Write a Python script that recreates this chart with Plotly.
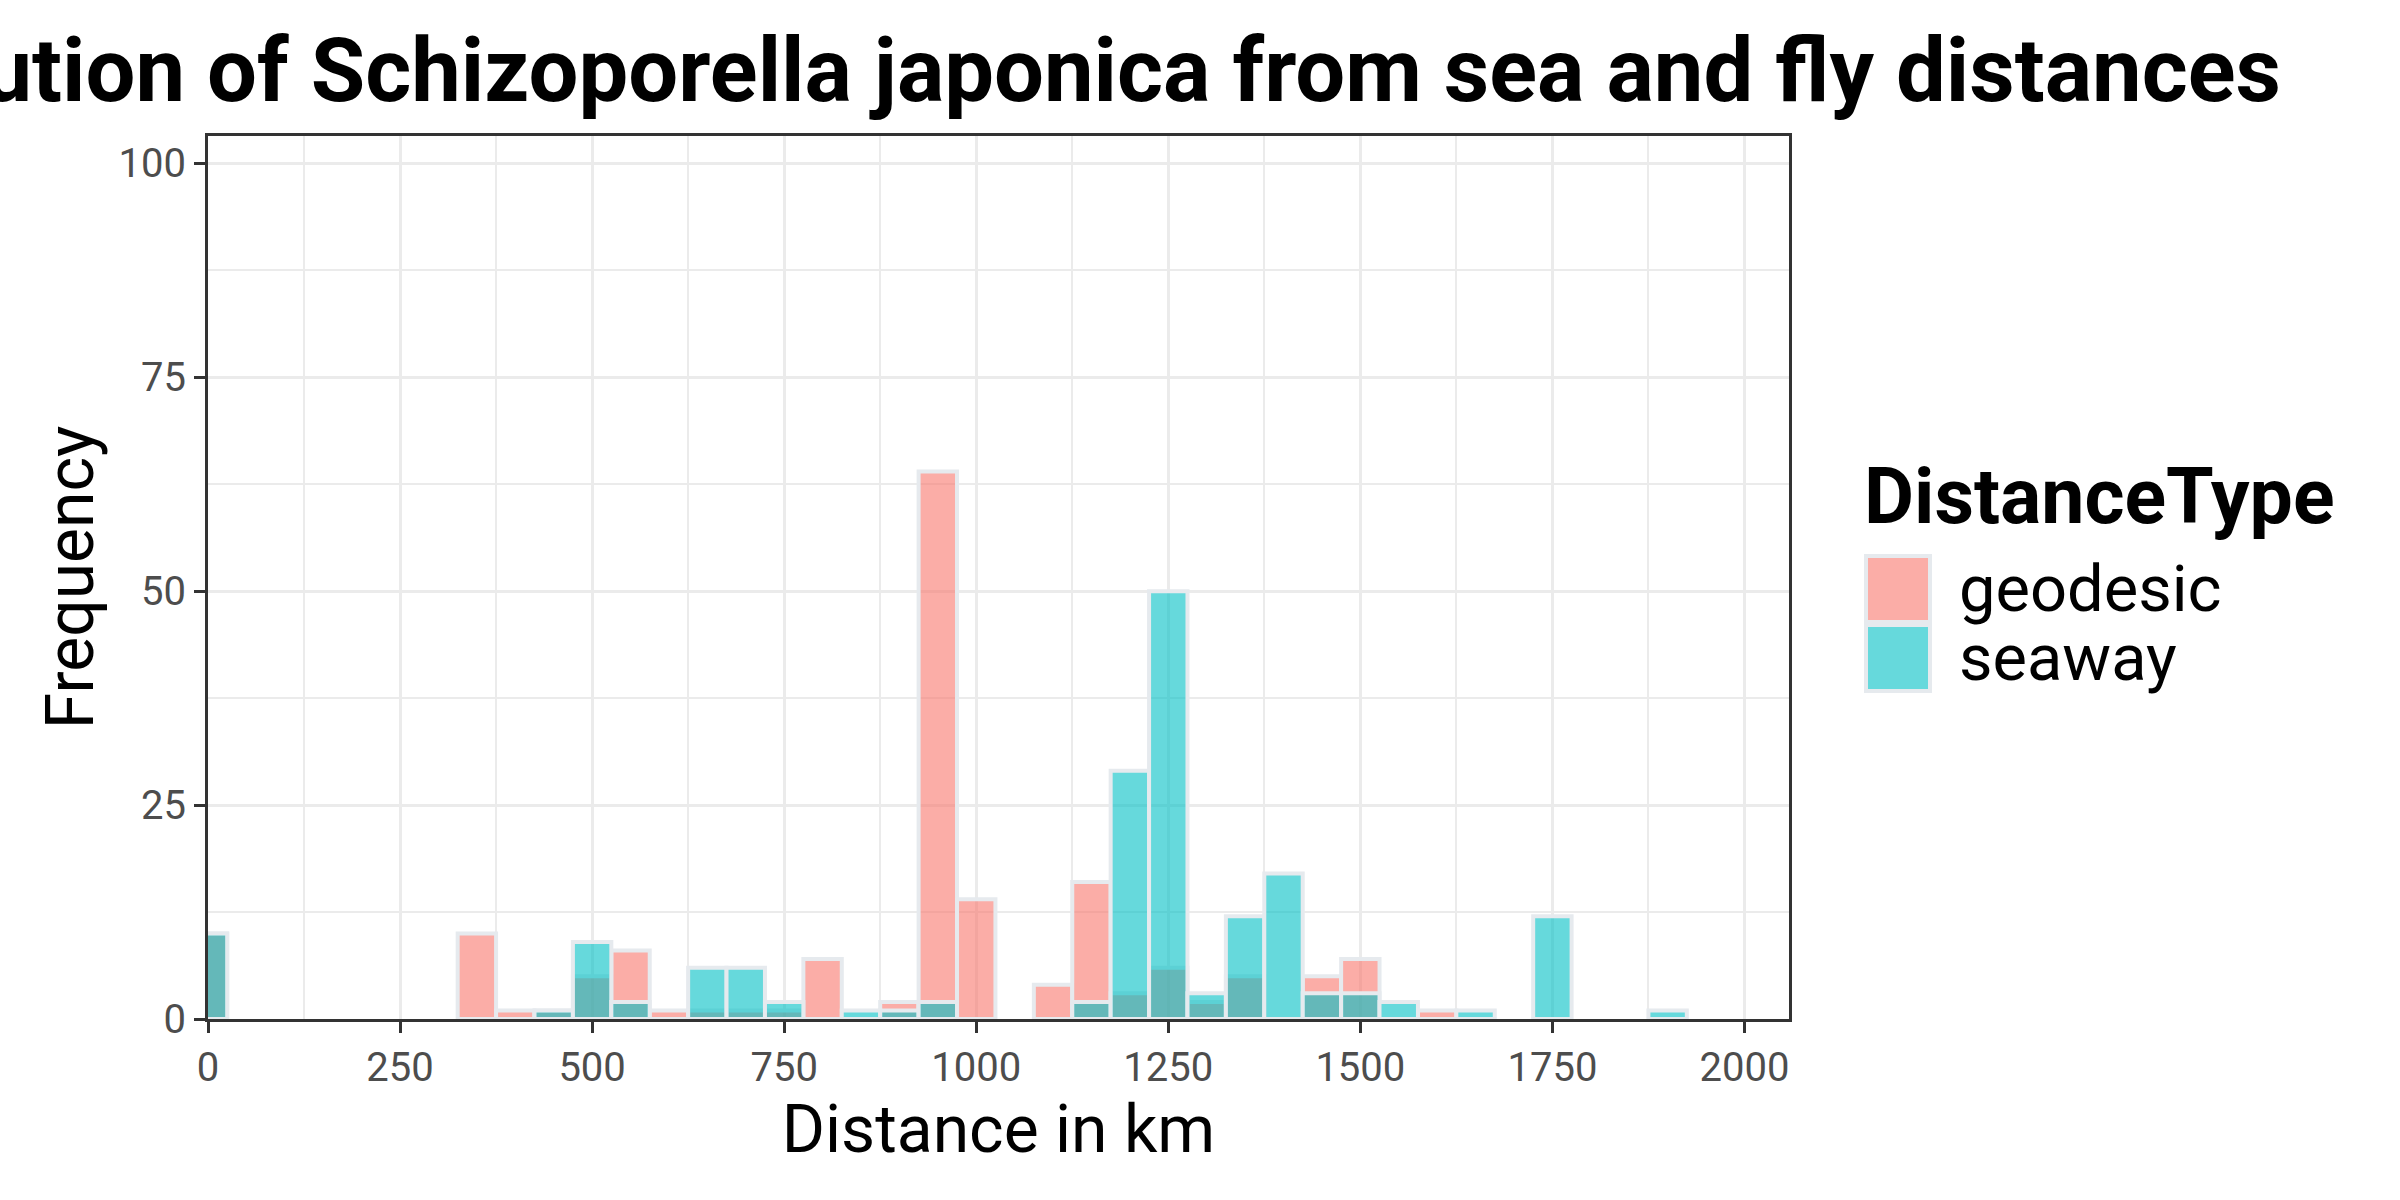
import plotly.graph_objects as go

# ---- data (bin centres in km, counts) ----
bin_centers = [0, 50, 100, 150, 200, 250, 300, 350, 400, 450, 500, 550, 600, 650, 700, 750,
               800, 850, 900, 950, 1000, 1050, 1100, 1150, 1200, 1250, 1300, 1350, 1400,
               1450, 1500, 1550, 1600, 1650, 1700, 1750, 1800, 1850, 1900]
geodesic = [10, 0, 0, 0, 0, 0, 0, 10, 1, 1, 5, 8, 1, 1, 1, 1,
            7, 0, 2, 64, 14, 0, 4, 16, 3, 6, 2, 5, 0,
            5, 7, 0, 1, 0, 0, 0, 0, 0, 0]
seaway = [10, 0, 0, 0, 0, 0, 0, 0, 0, 1, 9, 2, 0, 6, 6, 2,
          0, 1, 1, 2, 0, 0, 0, 2, 29, 50, 3, 12, 17,
          3, 3, 2, 0, 1, 0, 12, 0, 0, 1]
series_names = ["geodesic", "seaway"]
x_ticks = [0, 250, 500, 750, 1000, 1250, 1500, 1750, 2000]
y_ticks = [0, 25, 50, 75, 100]
bin_width = 50

fills = ["rgba(248,118,109,0.6)", "rgba(0,191,196,0.6)"]
outline = "#E6EAEE"
FONT = "Roboto"

# plot area in pixels
W, H = 2400, 1200
L, R, T, B = 208, 1789, 136, 1019


def px(xp):
    return (xp - L) / (R - L)


def py(yp):
    return (B - yp) / (B - T)


fig = go.Figure()
for name, vals, col in zip(series_names, [geodesic, seaway], fills):
    fig.add_trace(go.Bar(
        x=bin_centers,
        y=[v if v > 0 else None for v in vals],
        width=bin_width,
        name=name,
        marker=dict(color=col, line=dict(color=outline, width=4)),
        showlegend=False,
    ))

fig.update_layout(
    width=W, height=H, autosize=False,
    margin=dict(l=L, r=W - R, t=T, b=H - B, pad=0),
    paper_bgcolor="white", plot_bgcolor="white",
    barmode="overlay",
    font=dict(family=FONT, color="black"),
    title=dict(
        text="<b>Distribution of Schizoporella japonica from sea and fly distances</b>",
        x=2281 / W, xanchor="right", xref="container",
        y=1 - 70 / H, yanchor="middle", yref="container",
        font=dict(family=FONT, size=88.5, color="black"),
    ),
)

fig.update_xaxes(
    range=[0, 2058], tickvals=x_ticks, ticktext=[str(v) for v in x_ticks],
    showgrid=True, gridcolor="#EBEBEB", gridwidth=3,
    minor=dict(dtick=125, tick0=0, showgrid=True, gridcolor="#EBEBEB", gridwidth=1.5),
    ticks="outside", ticklen=11, tickwidth=3, tickcolor="#333333",
    tickfont=dict(family=FONT, size=40, color="#4D4D4D"),
    showline=True, linecolor="#333333", linewidth=3, mirror=True,
    zeroline=False,
    title=dict(text="Distance in km", font=dict(family=FONT, size=66, color="black"), standoff=4),
)
fig.update_yaxes(
    range=[0, 103.2], tickvals=y_ticks, ticktext=[str(v) for v in y_ticks],
    showgrid=True, gridcolor="#EBEBEB", gridwidth=3,
    minor=dict(dtick=12.5, tick0=0, showgrid=True, gridcolor="#EBEBEB", gridwidth=1.5),
    ticks="outside", ticklen=11, tickwidth=3, tickcolor="#333333",
    tickfont=dict(family=FONT, size=40, color="#4D4D4D"),
    showline=True, linecolor="#333333", linewidth=3, mirror=True,
    zeroline=False,
    title=dict(text="Frequency", font=dict(family=FONT, size=66, color="black"), standoff=4),
)

# ---- manual legend ----
fig.add_annotation(
    x=px(1862), y=py(497), xref="paper", yref="paper", xanchor="left", yanchor="middle",
    text="<b>DistanceType</b>", showarrow=False,
    font=dict(family=FONT, size=77, color="black"),
)
key_tops = [556, 625]
for name, col, top in zip(series_names, fills, key_tops):
    fig.add_shape(
        type="rect", xref="paper", yref="paper",
        x0=px(1866), x1=px(1930), y0=py(top), y1=py(top + 66),
        fillcolor=col, line=dict(color=outline, width=4), layer="above",
    )
    fig.add_annotation(
        x=px(1957), y=py(top + 33), xref="paper", yref="paper", xanchor="left", yanchor="middle",
        text=name, showarrow=False,
        font=dict(family=FONT, size=65, color="black"),
    )

fig.write_html("out.html")
